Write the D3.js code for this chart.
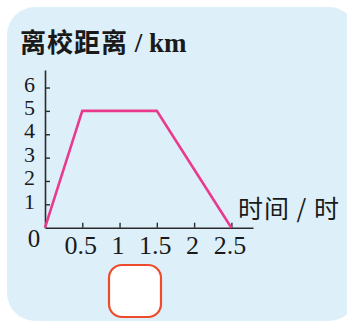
<!DOCTYPE html>
<html>
<head>
<meta charset="utf-8">
<script src="https://cdn.jsdelivr.net/npm/d3@7"></script>
<style>
  html, body { margin: 0; padding: 0; background: #fff; }
  svg { display: block; }
</style>
</head>
<body>
<svg width="347" height="325"></svg>
<script>
// data
var times = [0, 0.5, 1.5, 2.5];
var distances = [0, 5, 5, 0];
var xTicks = [0.5, 1, 1.5, 2, 2.5];
var xTickLabels = ['0.5', '1', '1.5', '2', '2.5'];
var yTicks = [1, 2, 3, 4, 5, 6];
var yTitle = '离校距离';
var yUnit = ' / km';
var xTitle = '时间 / 时';

var svg = d3.select('svg');
var serif = '"Liberation Serif", "DejaVu Serif", serif';
var cjk = '"Noto Sans CJK SC", sans-serif';

// background panel
svg.append('rect')
  .attr('x', 7).attr('y', 7)
  .attr('width', 350).attr('height', 314)
  .attr('rx', 28).attr('ry', 28)
  .attr('fill', '#ddf0fa');

var xScale = d3.scaleLinear().domain([0, 2.79]).range([45, 253]);
var yScale = d3.scaleLinear().domain([0, 6.75]).range([227.7, 70]);

var axisColor = '#2a2a2a';

var xAxis = d3.axisBottom(xScale)
  .tickValues(xTicks)
  .tickFormat(function(d, i) { return xTickLabels[i]; })
  .tickSizeInner(-5).tickSizeOuter(0).tickPadding(8);

var gx = svg.append('g')
  .attr('transform', 'translate(0,' + yScale(0) + ')')
  .call(xAxis);

var yAxis = d3.axisLeft(yScale)
  .tickValues(yTicks)
  .tickFormat(d3.format('d'))
  .tickSizeInner(-5).tickSizeOuter(0).tickPadding(10);

var gy = svg.append('g')
  .attr('transform', 'translate(' + xScale(0) + ',0)')
  .call(yAxis);

[gx, gy].forEach(function(g) {
  g.select('.domain').attr('stroke', axisColor).attr('stroke-width', 1.6);
  g.selectAll('.tick line').attr('stroke', axisColor).attr('stroke-width', 1.4);
  g.selectAll('.tick text').attr('fill', '#1a1a1a').attr('font-family', serif);
});
gx.selectAll('.tick text').attr('font-size', 26).attr('dx', -2);
gy.selectAll('.tick text').attr('font-size', 22).attr('dy', '0.17em');

// origin label
svg.append('text')
  .attr('x', 34).attr('y', 247)
  .attr('text-anchor', 'middle')
  .attr('font-family', serif).attr('font-size', 25)
  .attr('fill', '#1a1a1a')
  .text('0');

// the line
var line = d3.line()
  .x(function(d, i) { return xScale(times[i]); })
  .y(function(d) { return yScale(d); });

svg.append('path')
  .datum(distances)
  .attr('d', line)
  .attr('fill', 'none')
  .attr('stroke', '#ea3a8e')
  .attr('stroke-width', 2.6)
  .attr('stroke-linejoin', 'miter');

// y title
var yt = svg.append('text')
  .attr('x', 20).attr('y', 52)
  .attr('fill', '#1a1a1a');
yt.append('tspan')
  .attr('font-family', cjk).attr('font-size', 26).attr('font-weight', 700)
  .attr('letter-spacing', 1)
  .text(yTitle);
yt.append('tspan')
  .attr('font-family', serif).attr('font-size', 27).attr('font-weight', 700)
  .attr('xml:space', 'preserve')
  .text(yUnit);

// x title
svg.append('text')
  .attr('x', 238).attr('y', 218)
  .attr('font-family', cjk).attr('font-size', 25)
  .attr('letter-spacing', 1)
  .attr('fill', '#1a1a1a')
  .text(xTitle);

// answer box
svg.append('rect')
  .attr('x', 109).attr('y', 265)
  .attr('width', 52).attr('height', 52)
  .attr('rx', 13).attr('ry', 13)
  .attr('fill', '#fff')
  .attr('stroke', '#ee4a2c')
  .attr('stroke-width', 2.2);
</script>
</body>
</html>
